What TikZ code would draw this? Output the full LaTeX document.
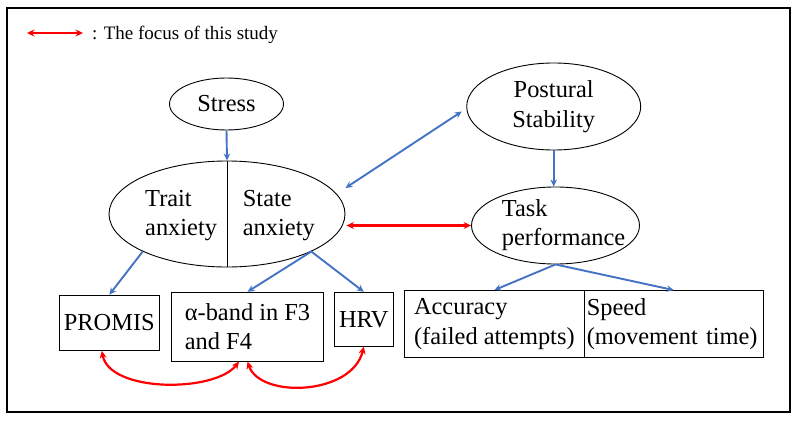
\documentclass[tikz,border=0pt]{standalone}
\usepackage{fontspec}
\setmainfont{Liberation Serif}
\usetikzlibrary{arrows.meta,shapes.geometric,calc}
\definecolor{arrowblue}{RGB}{68,114,196}
\definecolor{focusred}{RGB}{255,0,0}
\begin{document}
\begin{tikzpicture}[x=1pt,y=-1pt,
  mainfont/.style={font=\fontsize{24.4}{29.5}\selectfont},
  ell/.style={draw, ellipse, line width=0.9pt, inner sep=0pt},
  box/.style={draw, rectangle, line width=1.1pt, inner sep=0pt, mainfont, align=left},
  bluearr/.style={draw=arrowblue, line width=1.9pt, -{Stealth[length=7pt,width=6.5pt]}},
  bluearrtwo/.style={draw=arrowblue, line width=1.9pt, {Stealth[length=7pt,width=6.5pt]}-{Stealth[length=7pt,width=6.5pt]}},
  redarr/.style={draw=focusred, line width=2.2pt, {Stealth[length=7.5pt,width=7pt]}-{Stealth[length=7.5pt,width=7pt]}}
]
\useasboundingbox (0,0) rectangle (799,422);
\node[draw, rectangle, line width=1.1pt, minimum width=783, minimum height=404, inner sep=0pt] (frame) at (398.5,210) {};

% legend
\coordinate (legstart) at (27,33);
\node[font=\fontsize{19}{23}\selectfont, anchor=west, inner sep=0pt] (legtext) at (92,35) {: The focus of this study};
\draw[redarr] (legstart) -- ([xshift=-9pt]legtext.west |- legstart);

% ellipses
\node[ell, mainfont, minimum width=114, minimum height=52] (stress) at (226.5,104) {Stress};
\node[ell, minimum width=236, minimum height=106] (te) at (227,214) {};
\draw[line width=0.9pt] (te.north) -- (te.south);
\node[mainfont, align=left, anchor=west, inner sep=0pt] (trait) at (145,215.5) {Trait\\anxiety};
\node[mainfont, align=left, anchor=west, inner sep=0pt] (state) at (242.7,215.5) {State\\anxiety};

\node[ell, mainfont, align=center, minimum width=174, minimum height=87] (ps) at (553.7,106.5) {Postural\\Stability};
\node[ell, minimum width=168, minimum height=77] (tp) at (555.5,225.5) {};
\node[mainfont, align=left, anchor=west, inner sep=0pt] (tptext) at (501.7,225) {Task\\performance};

% boxes
\node[box, minimum width=100, minimum height=55] (promis) at (109.3,322.8) {PROMIS};
\node[box, minimum width=151.6, minimum height=68.7] (alpha) at (247.5,326.7) {α-band in F3\\and F4};
\node[box, minimum width=59, minimum height=53.7] (hrv) at (363.8,319.2) {HRV};
\node[box, minimum width=180, minimum height=66.7] (acc) at (494.3,324) {Accuracy\\(failed attempts)};
\node[box, minimum width=179, minimum height=66.7, text width=174pt, inner xsep=2.5pt] (spd) at (673.8,324) {Speed\\(movement time)};

% blue connectors
\draw[bluearr] (stress.south) -- (te.north);
\draw[bluearr] (ps.south) -- (ps.south |- tp.north);
\draw[bluearr] (te.204) -- (promis.north);
\draw[bluearr] (te.-24) -- (alpha.north);
\draw[bluearr] (te.-24) -- (hrv.north);
\draw[bluearr] (tp.south) -- (acc.north);
\draw[bluearr] (tp.south) -- (spd.north);
\draw[bluearrtwo] ([yshift=26pt]te.east) -- ([xshift=-4.5pt,yshift=-5pt]ps.west);

% red connectors
\draw[redarr] ([xshift=1pt]te.east |- tp.west) -- (tp.west);
\draw[redarr] ([xshift=-7.5pt]promis.south) .. controls +(8,42) and +(-24,31) .. ([xshift=-8.5pt]alpha.south);
\draw[redarr] (alpha.south) .. controls +(12.5,37) and +(-11.8,49) .. (hrv.south);
\end{tikzpicture}
\end{document}
